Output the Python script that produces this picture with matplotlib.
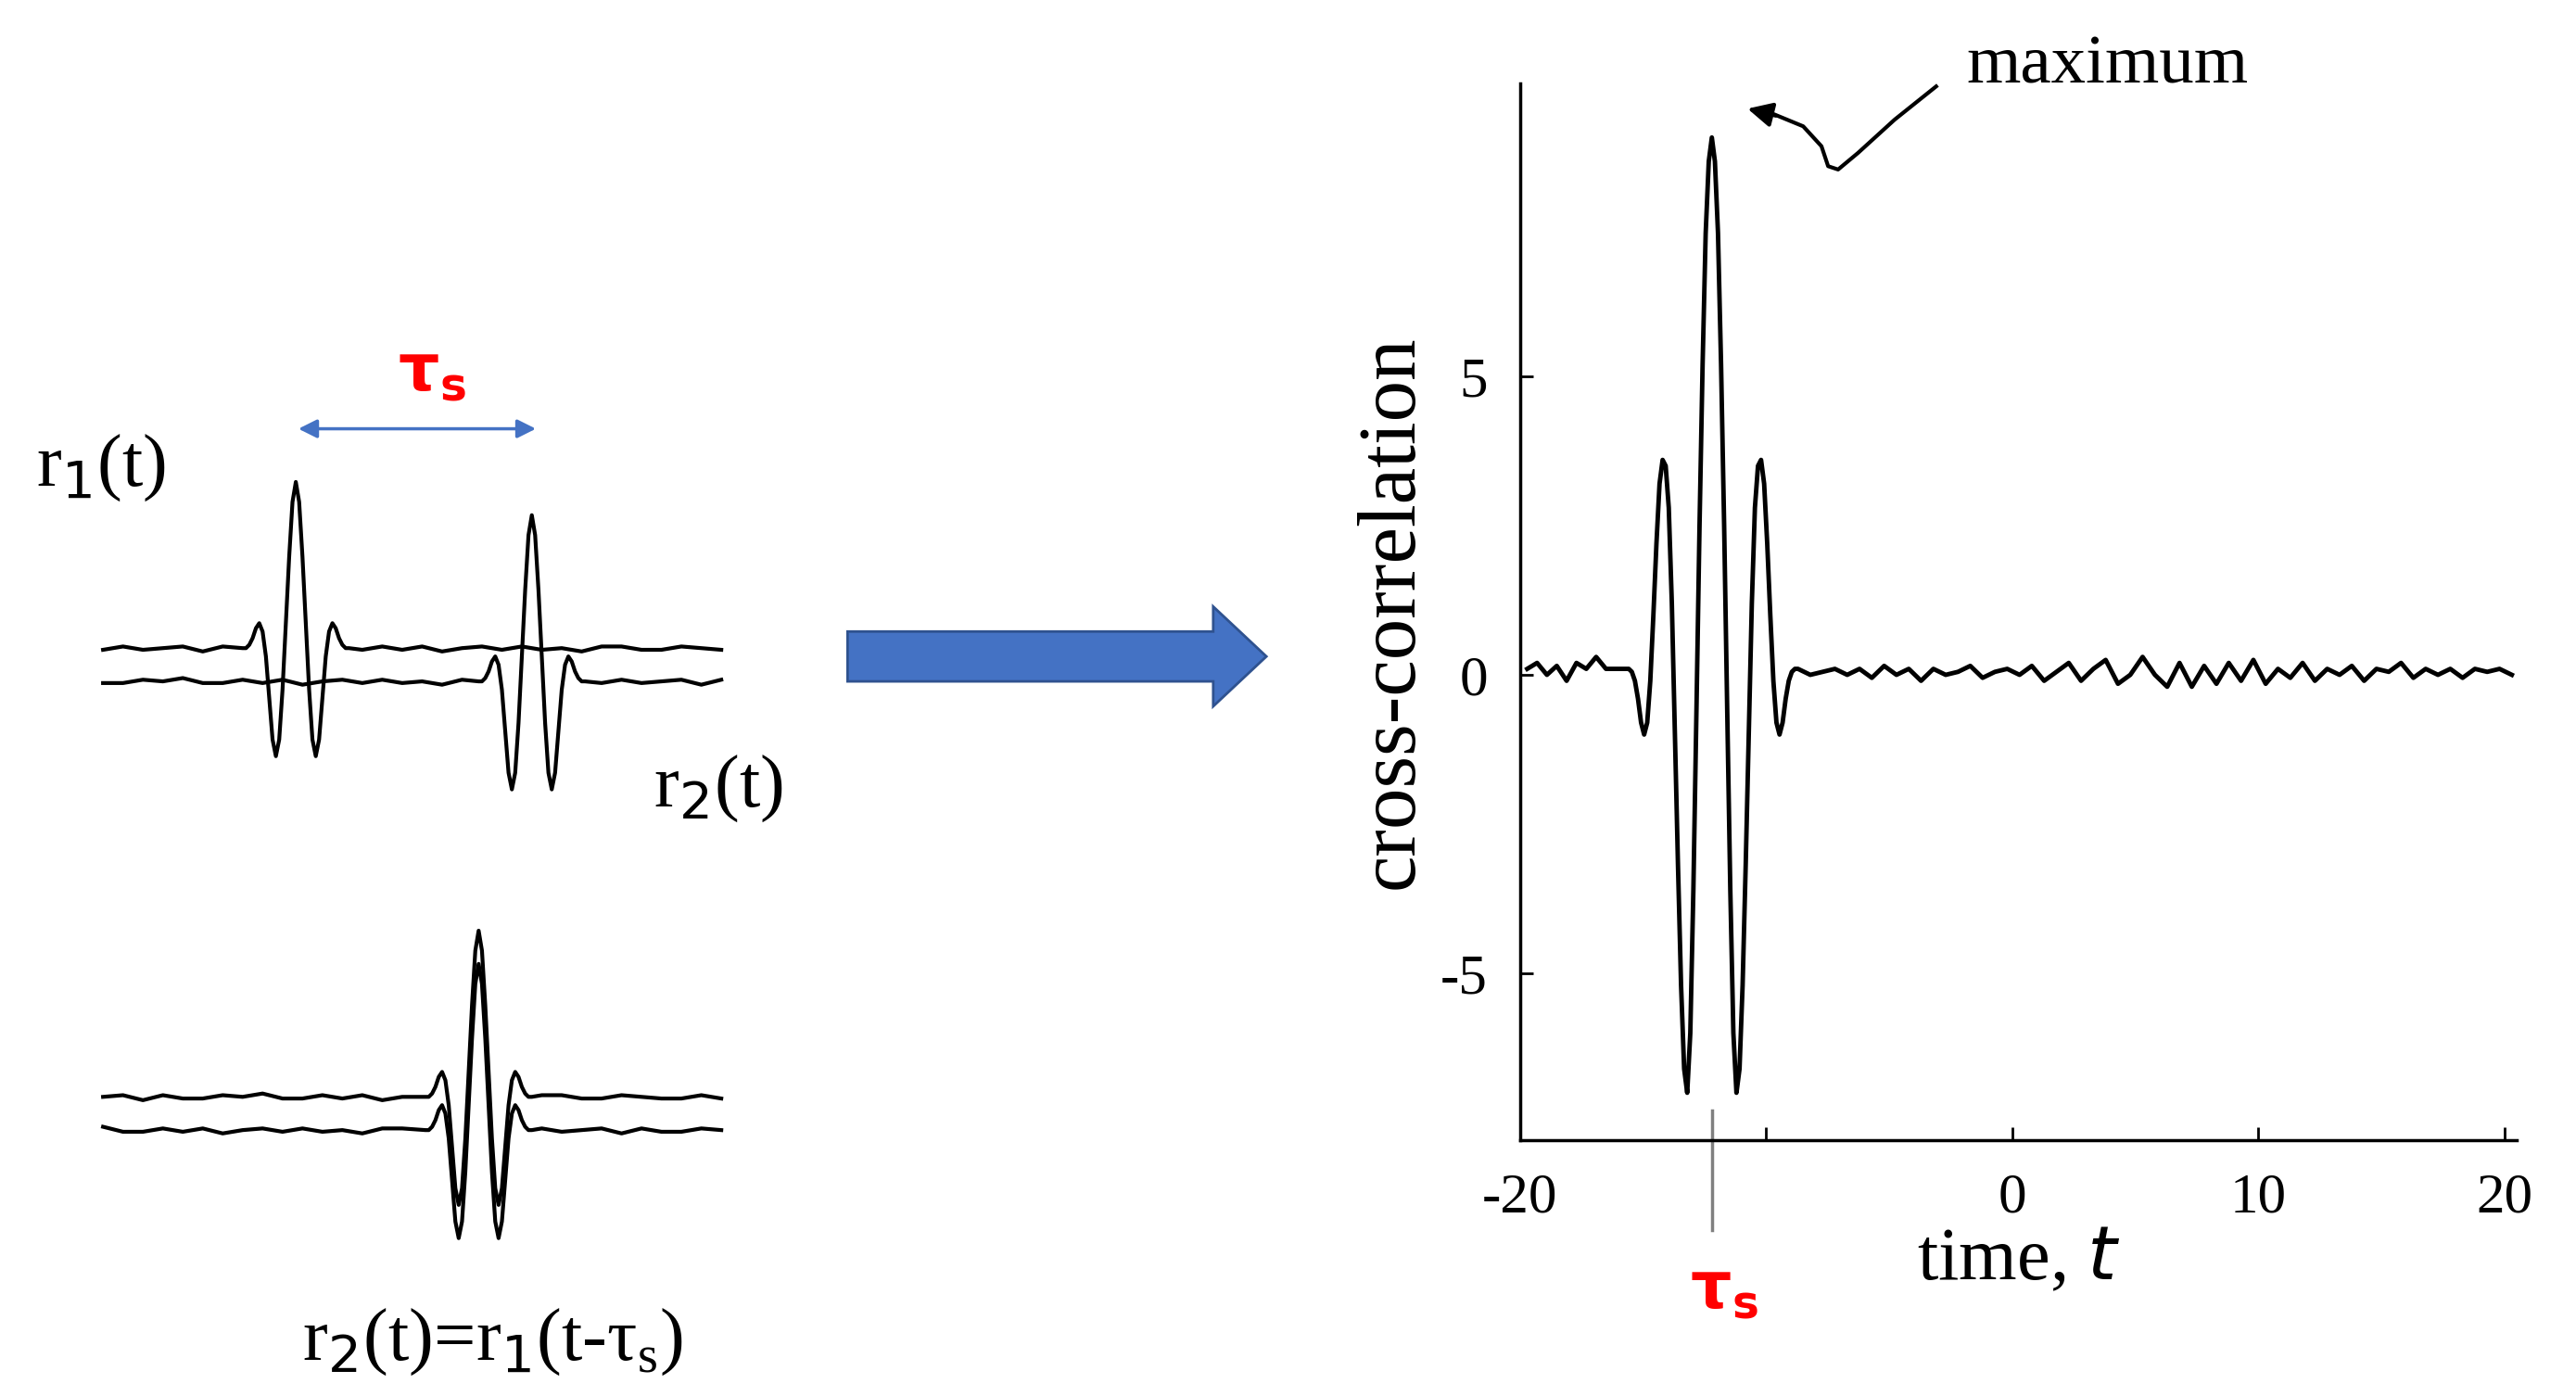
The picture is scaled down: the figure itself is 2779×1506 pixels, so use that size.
import matplotlib.pyplot as plt
from matplotlib.patches import FancyArrow

# cross-correlation curve (time, value)
cc_t = [-19.7, -19.3, -18.9, -18.5, -18.1, -17.7, -17.3, -16.9, -16.5, -16.1,
        -15.7, -15.575, -15.45, -15.325, -15.2, -15.075, -14.95, -14.825, -14.7, -14.575,
        -14.45, -14.325, -14.2, -14.075, -13.95, -13.825, -13.7, -13.575, -13.45, -13.325,
        -13.2, -13.075, -12.95, -12.825, -12.7, -12.575, -12.45, -12.325, -12.2,
        -12.075, -11.95, -11.825, -11.7, -11.575, -11.45, -11.325, -11.2, -11.075,
        -10.95, -10.825, -10.7, -10.575, -10.45, -10.325, -10.2, -10.075, -9.95,
        -9.825, -9.7, -9.575, -9.45, -9.325, -9.2, -9.075, -8.95, -8.825, -8.7,
        -8.2, -7.7, -7.2, -6.7, -6.2, -5.7, -5.2, -4.7, -4.2, -3.7, -3.2, -2.7, -2.2,
        -1.7, -1.2, -0.7, -0.2, 0.3, 0.8, 1.3, 1.8, 2.3, 2.8, 3.3, 3.8, 4.3, 4.8,
        5.3, 5.8, 6.3, 6.8, 7.3, 7.8, 8.3, 8.8, 9.3, 9.8, 10.3, 10.8, 11.3, 11.8,
        12.3, 12.8, 13.3, 13.8, 14.3, 14.8, 15.3, 15.8, 16.3, 16.8, 17.3, 17.8,
        18.3, 18.8, 19.3, 19.8, 20.3]
cc_v = [0.1, 0.2, 0.0, 0.15, -0.1, 0.2, 0.1, 0.3, 0.1, 0.1,
        0.1, 0.1, 0.05, -0.1, -0.4, -0.8, -1.0, -0.8, -0.1, 1.0,
        2.2, 3.2, 3.6, 3.5, 2.8, 1.2, -1.0, -3.2, -5.2, -6.6,
        -7.0, -6.0, -3.6, -0.6, 2.5, 5.2, 7.4, 8.6, 9.0,
        8.6, 7.4, 5.2, 2.5, -0.6, -3.6, -6.0, -7.0, -6.6,
        -5.2, -3.2, -1.0, 1.2, 2.8, 3.5, 3.6, 3.2, 2.2,
        1.0, -0.1, -0.8, -1.0, -0.8, -0.4, -0.1, 0.05, 0.1, 0.1,
        0.0, 0.05, 0.1, 0.0, 0.1, -0.05, 0.15, 0.0, 0.1, -0.1, 0.1, 0.0, 0.05,
        0.15, -0.05, 0.05, 0.1, 0.0, 0.15, -0.1, 0.05, 0.2, -0.1, 0.1, 0.25, -0.15,
        0.0, 0.3, 0.0, -0.2, 0.2, -0.2, 0.15, -0.15, 0.2, -0.1, 0.25, -0.15, 0.1,
        -0.05, 0.2, -0.1, 0.1, 0.0, 0.15, -0.1, 0.1, 0.05, 0.2, -0.05, 0.1, 0.0,
        0.1, -0.05, 0.1, 0.05, 0.1, 0.0]

# wavelet profile (pixel offset, amplitude in px, upward positive)
wav_dx = [-32, -30, -28, -26, -24, -22, -20, -18, -16, -14, -12, -10, -8, -6, -4, -2, 0,
          2, 4, 6, 8, 10, 12, 14, 16, 18, 20, 22, 24, 26, 28, 30, 32]
wav_dy = [0, 0, 2, 6, 12, 15, 10, -5, -30, -55, -65, -55, -25, 15, 55, 88, 100,
          88, 55, 15, -25, -55, -65, -55, -30, -5, 10, 15, 12, 6, 2, 0, 0]
# baseline wiggle (px), sampled every 12 px
noise = [1, -1, 1, 0, -1, 2, -1, 1, 1, -1, 0, -2, 1, 1, -1, 1, -1, 2, 0, -1,
         1, -1, 1, 0, 2, -1, -1, 1, 1, -1, 0, 1]

fig = plt.figure(figsize=(27.79, 15.06), dpi=100)
serif = 'Liberation Serif'
blue = '#4472C4'

ov = fig.add_axes([0, 0, 1, 1])
ov.set_xlim(0, 1550)
ov.set_ylim(840, 0)
ov.axis('off')


def trace(y0, xc, ph):
    xs = [62 + 12 * i for i in range(len(noise))]
    ys = [y0 + noise[(i + ph) % len(noise)] for i in range(len(noise))]
    pts = [(x, y) for x, y in zip(xs, ys) if abs(x - xc) > 34]
    pts += [(xc + dx, y0 - dy) for dx, dy in zip(wav_dx, wav_dy)]
    pts.sort()
    ov.plot([p[0] for p in pts], [p[1] for p in pts], color='black', lw=3)


trace(390, 178, 0)
trace(410, 320, 7)
trace(660, 288, 3)
trace(680, 288, 11)

ov.text(22, 292, r'r$_1$(t)', fontsize=58, family=serif, va='baseline')
ov.text(393, 485, r'r$_2$(t)', fontsize=58, family=serif, va='baseline')
ov.text(182, 818, r'r$_2$(t)=r$_1$(t-τ$_\mathregular{s}$)', fontsize=58, family=serif, va='baseline')
ov.text(260, 235, r'$\mathbf{\tau_s}$', fontsize=50, color='red', ha='center', va='baseline')
ov.annotate('', xy=(178, 258), xytext=(324, 258),
            arrowprops=dict(arrowstyle='<|-|>', color=blue, lw=2.5, mutation_scale=30))
ov.add_patch(FancyArrow(510, 395, 220, 0, width=30, head_width=60, head_length=32,
                        length_includes_head=False, fc=blue, ec='#2F528F', lw=2))

# maximum label with curly pointer
ov.text(1183, 50, 'maximum', fontsize=54, family=serif, va='baseline')
ov.plot([1165, 1140, 1118, 1106, 1100, 1096, 1085, 1068],
        [52, 72, 92, 102, 100, 88, 76, 69], color='black', lw=3)
ov.annotate('', xy=(1050, 65), xytext=(1070, 70),
            arrowprops=dict(arrowstyle='-|>', color='black', lw=3, mutation_scale=40))

ax = fig.add_axes([0.59, 0.183, 0.387, 0.757])
ax.plot(cc_t, cc_v, color='black', lw=3.5)
ax.set_xlim(-19.7, 20.5)
ax.set_ylim(-7.8, 9.9)
ax.spines[['top', 'right']].set_visible(False)
for s in ['left', 'bottom']:
    ax.spines[s].set_linewidth(2.5)
ax.set_xticks([-20, -10, 0, 10, 20])
ax.set_xticklabels(['-20', '', '0', '10', '20'])
ax.set_yticks([-5, 0, 5])
ax.set_yticklabels(['-5', '0', '5'])
ax.tick_params(direction='in', length=10, width=2, labelsize=44, pad=25)
for lab in ax.get_xticklabels() + ax.get_yticklabels():
    lab.set_family(serif)
ax.set_ylabel('cross-correlation', fontsize=64, family=serif, labelpad=8)
ax.set_xlabel('time, $\\mathit{t}$', fontsize=58, family=serif, labelpad=2)
ax.patch.set_alpha(0)
ax.plot([-12.2, -12.2], [-7.3, -9.3], color='gray', lw=2.5, clip_on=False)
ax.text(-11.7, -10.3, r'$\mathbf{\tau_s}$', fontsize=50, color='red', ha='center', va='center')

fig.savefig('out.png', dpi=100)
